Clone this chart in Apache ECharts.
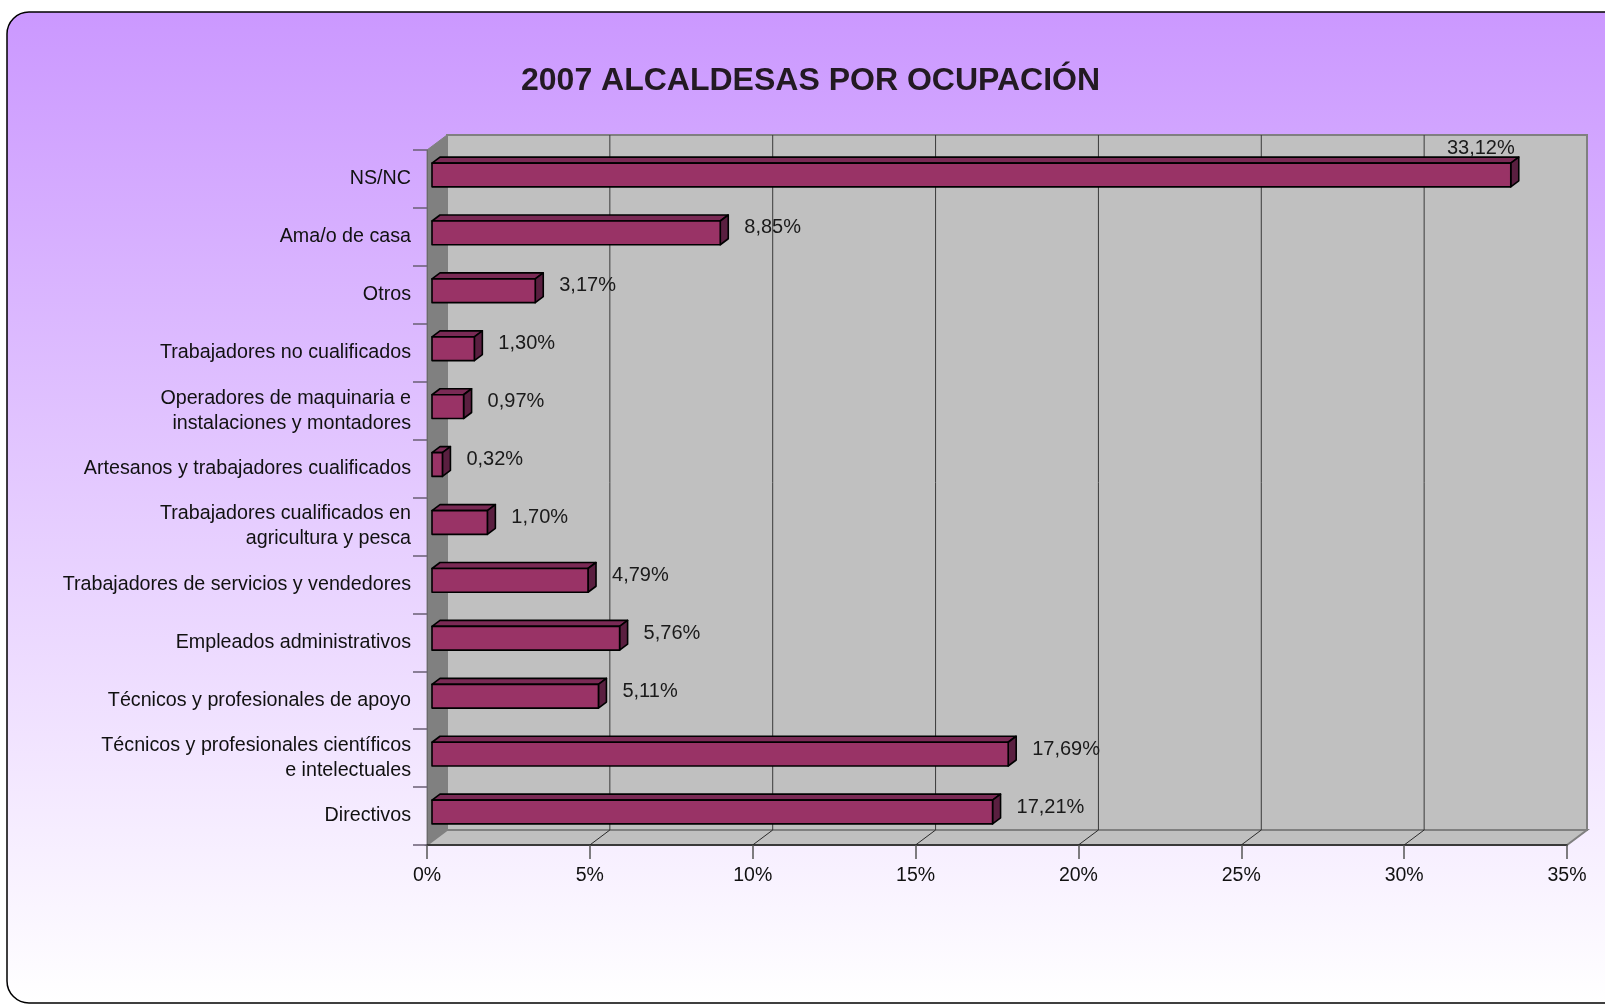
<!DOCTYPE html>
<html>
<head>
<meta charset="utf-8">
<script src="https://cdn.jsdelivr.net/npm/echarts@6/dist/echarts.min.js"></script>
<style>
  html, body { margin: 0; padding: 0; background: #fff; }
  #chart { width: 1605px; height: 1004px; }
</style>
</head>
<body>
<div id="chart"></div>
<script>
const categories = [
  'NS/NC',
  'Ama/o de casa',
  'Otros',
  'Trabajadores no cualificados',
  'Operadores de maquinaria e\ninstalaciones y montadores',
  'Artesanos y trabajadores cualificados',
  'Trabajadores cualificados en\nagricultura y pesca',
  'Trabajadores de servicios y vendedores',
  'Empleados administrativos',
  'Técnicos y profesionales de apoyo',
  'Técnicos y profesionales científicos\ne intelectuales',
  'Directivos'
];
const values = [33.12, 8.85, 3.17, 1.30, 0.97, 0.32, 1.70, 4.79, 5.76, 5.11, 17.69, 17.21];
const xTicks = [0, 5, 10, 15, 20, 25, 30, 35];

// depth of the fake 3d box
const DX = 20, DY = -15;
// bars sit a quarter into the box, and are 0.4 of it deep
const BX = 5, BY = -4, BDX = 8, BDY = -6;
const FONT = 'Liberation Sans, Arial, sans-serif';

const fmt = v => v.toFixed(2).replace('.', ',') + '%';

const chart = echarts.init(document.getElementById('chart'));

function renderWalls(params, api) {
  const cs = params.coordSys;
  const x0 = cs.x, x1 = cs.x + cs.width, y0 = cs.y, y1 = cs.y + cs.height;
  const ch = [];
  // back wall
  ch.push({ type: 'rect', shape: { x: x0 + DX, y: y0 + DY, width: cs.width, height: cs.height },
    style: { fill: '#c0c0c0', stroke: '#808080', lineWidth: 2 } });
  // left wall
  ch.push({ type: 'polygon', shape: { points: [[x0, y0], [x0 + DX, y0 + DY], [x0 + DX, y1 + DY], [x0, y1]] },
    style: { fill: '#808080', stroke: '#808080', lineWidth: 1 } });
  // floor
  ch.push({ type: 'polygon', shape: { points: [[x0, y1], [x0 + DX, y1 + DY], [x1 + DX, y1 + DY], [x1, y1]] },
    style: { fill: '#c0c0c0', stroke: '#808080', lineWidth: 2 } });
  xTicks.slice(1, -1).forEach(t => {
    const x = api.coord([t, 0])[0];
    ch.push({ type: 'line', shape: { x1: x + DX, y1: y0 + DY, x2: x + DX, y2: y1 + DY },
      style: { stroke: '#3a3a3a', lineWidth: 1 } });
    ch.push({ type: 'line', shape: { x1: x + DX, y1: y1 + DY, x2: x, y2: y1 },
      style: { stroke: '#2a2a2a', lineWidth: 1 } });
  });
  return { type: 'group', children: ch };
}

function renderBar(params, api) {
  const cs = params.coordSys;
  const v = api.value(0);
  const c = api.coord([v, api.value(1)]);
  const start = api.coord([0, api.value(1)]);
  const band = api.size([0, 1])[1];
  const h = band * 0.41;
  const xa = start[0] + BX, xb = c[0] + BX;
  const yt = c[1] + BY - h / 2, yb = yt + h;
  const stroke = { stroke: '#000', lineWidth: 1.6, lineJoin: 'round' };
  const ch = [
    { type: 'polygon', shape: { points: [[xa, yt], [xa + BDX, yt + BDY], [xb + BDX, yt + BDY], [xb, yt]] },
      style: Object.assign({ fill: '#7a2a55' }, stroke) },
    { type: 'polygon', shape: { points: [[xb, yt], [xb + BDX, yt + BDY], [xb + BDX, yb + BDY], [xb, yb]] },
      style: Object.assign({ fill: '#5a1f40' }, stroke) },
    { type: 'rect', shape: { x: xa, y: yt, width: xb - xa, height: h },
      style: Object.assign({ fill: '#993366' }, stroke) }
  ];
  const lx = xb + BDX + 16;
  const label = fmt(v);
  if (lx + 70 > cs.x + cs.width + DX) {
    ch.push({ type: 'text', style: { text: label, x: xb + 4, y: yt + BDY + 1, align: 'right', verticalAlign: 'bottom',
      fill: '#1a1a1a', font: '20px ' + FONT } });
  } else {
    ch.push({ type: 'text', style: { text: label, x: lx, y: c[1] - 9, align: 'left', verticalAlign: 'middle',
      fill: '#1a1a1a', font: '20px ' + FONT } });
  }
  return { type: 'group', children: ch };
}

const option = {
  animation: false,
  title: {
    text: '2007 ALCALDESAS POR OCUPACIÓN',
    left: 521,
    top: 65,
    padding: 0,
    textStyle: { fontFamily: FONT, fontSize: 32, fontWeight: 'bold', color: '#231a23' }
  },
  graphic: [{
    type: 'rect',
    z: -10,
    shape: { x: 7, y: 12, width: 1620, height: 991, r: 22 },
    style: {
      stroke: '#000', lineWidth: 1.5,
      fill: new echarts.graphic.LinearGradient(0, 0, 0, 1, [
        { offset: 0, color: '#cb98ff' },
        { offset: 1, color: '#ffffff' }
      ])
    }
  }],
  grid: { left: 427, top: 150, width: 1140, height: 695, containLabel: false },
  xAxis: {
    type: 'value', min: 0, max: 35, interval: 5, z: 3,
    axisLine: { show: true, lineStyle: { color: '#222', width: 1.5 } },
    axisTick: { show: true, length: 14, lineStyle: { color: '#555', width: 1.5 } },
    axisLabel: { formatter: '{value}%', margin: 21, color: '#111', fontSize: 19.5, fontFamily: FONT },
    splitLine: { show: false }
  },
  yAxis: {
    type: 'category', inverse: true, data: categories, z: 3,
    axisLine: { show: true, lineStyle: { color: '#6a6a6a', width: 1 } },
    axisTick: { show: true, length: 14, lineStyle: { color: '#6a5f74', width: 1.5 } },
    axisLabel: { margin: 16, color: '#111', fontSize: 19.7, fontFamily: FONT, lineHeight: 25, align: 'right' },
    splitLine: { show: false }
  },
  series: [
    { type: 'custom', name: 'walls', z: 1, silent: true, clip: false,
      renderItem: renderWalls, data: [[0, 0]] },
    { type: 'custom', name: 'Alcaldesas', z: 5, clip: false,
      renderItem: renderBar, encode: { x: 0, y: 1 },
      data: values.map((v, i) => [v, i]) }
  ]
};

chart.setOption(option);
</script>
</body>
</html>
